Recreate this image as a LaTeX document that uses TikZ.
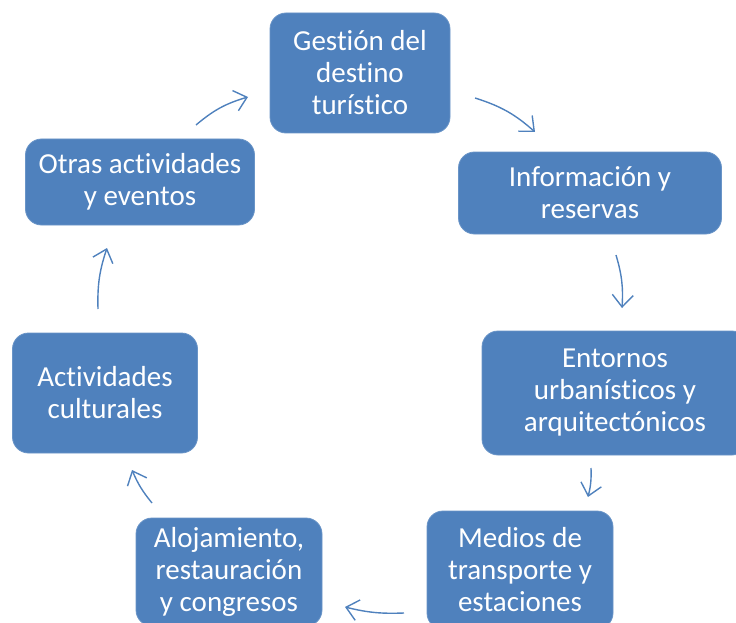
\documentclass[tikz,border=0pt]{standalone}
\usepackage{fontspec}
\setmainfont{Carlito}[Ligatures={NoCommon}]
\usetikzlibrary{arrows.meta}
\definecolor{boxblue}{HTML}{4F81BD}
\begin{document}
\begin{tikzpicture}[x=1pt,y=-1pt,
  box/.style={draw=boxblue!85!white, line width=0.8pt, fill=boxblue, rounded corners=16pt,
    text=white, align=center, font=\fontsize{29}{32}\selectfont, inner sep=0pt},
  conn/.style={draw=boxblue, line width=1.4pt, -{Straight Barb[length=12pt,width=21pt]}}]
\useasboundingbox (0,0) rectangle (736,623);
\clip (0,0) rectangle (736,623);
\node[box, minimum width=180pt, minimum height=120pt] (g) at (360,73) {Gestión del\\destino\\turístico};
\node[box, minimum width=263pt, minimum height=82pt] (i) at (590,193) {Información y\\reservas};
\node[box, minimum width=266pt, minimum height=124pt] (e) at (615,393) {Entornos\\urbanísticos y\\arquitectónicos};
\node[box, minimum width=186pt, minimum height=118pt] (m) at (520,570) {Medios de\\transporte y\\estaciones};
\node[box, minimum width=186pt, minimum height=108pt] (a) at (229,572) {Alojamiento,\\restauración\\y congresos};
\node[box, minimum width=185pt, minimum height=120pt] (c) at (105,393) {Actividades\\culturales};
\node[box, minimum width=229pt, minimum height=86pt] (o) at (140,182) {Otras actividades\\y eventos};

\coordinate (g1) at (475,98);  \coordinate (i0) at (535,132);
\coordinate (i1) at (616,255); \coordinate (e0) at (622,308);
\coordinate (e1) at (591,468); \coordinate (m0) at (588,497);
\coordinate (m1) at (404,613); \coordinate (a0) at (345,607);
\coordinate (a1) at (152,503); \coordinate (c0) at (132,470);
\coordinate (c1) at (98,309);  \coordinate (o0) at (107,248);
\coordinate (o1) at (196,125); \coordinate (g0) at (248,97);

\draw[conn] (g1) to[bend left=12] (i0);
\draw[conn] (i1) to[bend left=10] (e0);
\draw[conn] (e1) to[bend left=8] (m0);
\draw[conn] (m1) to[bend left=8] (a0);
\draw[conn] (a1) to[bend left=8] (c0);
\draw[conn] (c1) to[bend left=10] (o0);
\draw[conn] (o1) to[bend left=12] (g0);
\end{tikzpicture}
\end{document}
